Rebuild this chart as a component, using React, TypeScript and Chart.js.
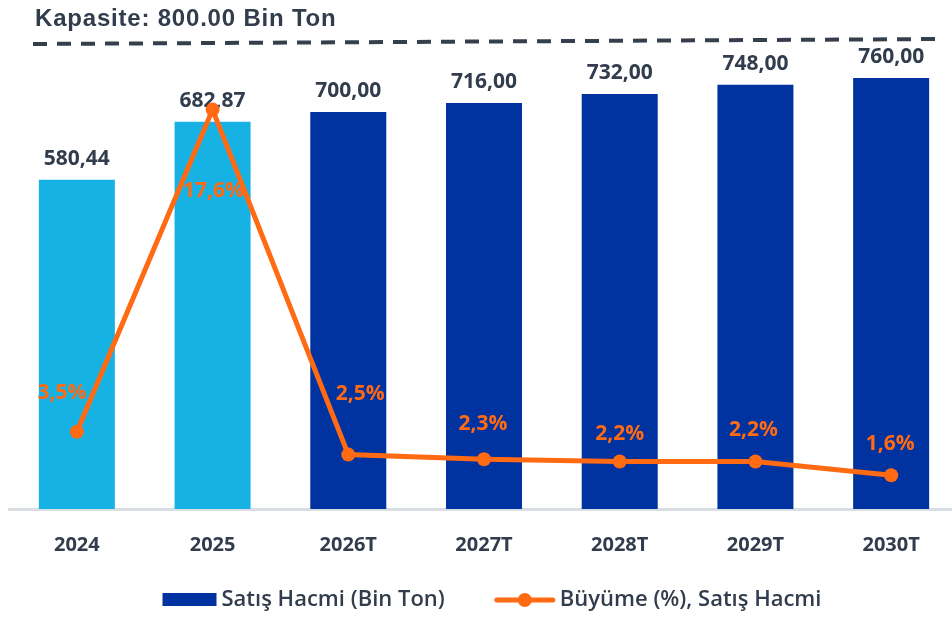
import React, { useEffect, useRef } from "react";
import { Chart, registerables } from "chart.js";

Chart.register(...registerables);

// ---- data ----
const categories = ["2024", "2025", "2026T", "2027T", "2028T", "2029T", "2030T"];
const salesVolume = [580.44, 682.87, 700.0, 716.0, 732.0, 748.0, 760.0];
const growthPct = [3.5, 17.6, 2.5, 2.3, 2.2, 2.2, 1.6];
const salesLabels = ["580,44", "682,87", "700,00", "716,00", "732,00", "748,00", "760,00"];
const growthLabels = ["3,5%", "17,6%", "2,5%", "2,3%", "2,2%", "2,2%", "1,6%"];
const actualYears = 2;
const capacityText = "Kapasite: 800.00 Bin Ton";
const legendLabels = ["Satış Hacmi (Bin Ton)", "Büyüme (%), Satış Hacmi"];

// ---- style ----
const TEXT = "#313c4c";
const ORANGE = "#FF6A13";
const LIGHT = "#17B2E4";
const NAVY = "#0033A0";
const FONT = "'Open Sans', 'Noto Sans', sans-serif";
const growthLabelOffsets: [number, number][] = [
  [-15, -39],
  [1, 81],
  [12, -61],
  [-1, -35],
  [0, -27],
  [-2, -31],
  [-1, -31],
];

const labelsPlugin = {
  id: "customLabels",
  afterDatasetDraw(chart: any, args: any) {
    if (args.index !== 0) return;
    const ctx = chart.ctx;
    ctx.save();
    ctx.textAlign = "center";
    ctx.textBaseline = "middle";
    const barMeta = chart.getDatasetMeta(0);
    ctx.font = `bold 21px ${FONT}`;
    ctx.fillStyle = TEXT;
    barMeta.data.forEach((el: any, i: number) => {
      ctx.fillText(salesLabels[i], el.x, el.y - 21);
    });
    const lineMeta = chart.getDatasetMeta(1);
    ctx.font = `bold 21px ${FONT}`;
    ctx.fillStyle = ORANGE;
    lineMeta.data.forEach((el: any, i: number) => {
      const [dx, dy] = growthLabelOffsets[i];
      ctx.fillText(growthLabels[i], el.x + dx, el.y + dy);
    });
    ctx.restore();
  },
  afterDraw(chart: any) {
    const ctx = chart.ctx;
    const area = chart.chartArea;
    ctx.save();
    // capacity title
    ctx.font = `bold 24px 'Liberation Sans', Arial, sans-serif`;
    (ctx as any).letterSpacing = "0.8px";
    ctx.fillStyle = TEXT;
    ctx.textAlign = "left";
    ctx.textBaseline = "middle";
    ctx.fillText(capacityText, 35, 19);
    (ctx as any).letterSpacing = "0px";
    // capacity dashed line
    ctx.strokeStyle = "#363f4c";
    ctx.lineWidth = 4;
    ctx.setLineDash([14, 10]);
    ctx.beginPath();
    ctx.moveTo(33, 44);
    ctx.lineTo(942, 39);
    ctx.stroke();
    ctx.setLineDash([]);

    // legend
    ctx.font = `600 22px ${FONT}`;
    const w1 = ctx.measureText(legendLabels[0]).width;
    const w2 = ctx.measureText(legendLabels[1]).width;
    const boxW = 54, markW = 60, gap = 5, itemGap = 50;
    const total = boxW + gap + w1 + itemGap + markW + gap + w2;
    const cx = (area.left + area.right) / 2 + 8;
    let x = cx - total / 2;
    const y = 600;
    ctx.fillStyle = NAVY;
    ctx.fillRect(x, y - 7, boxW, 13);
    x += boxW + gap;
    ctx.fillStyle = TEXT;
    ctx.textBaseline = "middle";
    ctx.fillText(legendLabels[0], x, y);
    x += w1 + itemGap;
    ctx.strokeStyle = ORANGE;
    ctx.lineWidth = 5;
    ctx.lineCap = "round";
    ctx.beginPath();
    ctx.moveTo(x + 2, y);
    ctx.lineTo(x + markW - 2, y);
    ctx.stroke();
    ctx.fillStyle = ORANGE;
    ctx.beginPath();
    ctx.arc(x + markW / 2, y, 7, 0, Math.PI * 2);
    ctx.fill();
    x += markW + gap;
    ctx.fillStyle = TEXT;
    ctx.fillText(legendLabels[1], x, y);
    ctx.restore();
  },
};

export default function App() {
  const canvasRef = useRef<HTMLCanvasElement | null>(null);

  useEffect(() => {
    const canvas = canvasRef.current;
    if (!canvas) return;
    const chart = new Chart(canvas, {
      type: "bar",
      data: {
        labels: categories,
        datasets: [
          {
            type: "bar",
            label: legendLabels[0],
            data: salesVolume,
            backgroundColor: salesVolume.map((_, i) => (i < actualYears ? LIGHT : NAVY)),
            borderWidth: 0,
            categoryPercentage: 1,
            barPercentage: 0.56,
            yAxisID: "y",
            order: 2,
          },
          {
            type: "line",
            label: legendLabels[1],
            data: growthPct,
            borderColor: ORANGE,
            backgroundColor: ORANGE,
            borderWidth: 5,
            pointRadius: 7,
            pointBorderWidth: 0,
            pointBackgroundColor: ORANGE,
            tension: 0,
            yAxisID: "y1",
            order: 1,
          } as any,
        ],
      },
      options: {
        responsive: false,
        animation: false,
        layout: { padding: { left: 9, right: 0, top: 10, bottom: 36 } },
        plugins: {
          legend: { display: false },
          tooltip: { enabled: false },
        },
        scales: {
          x: {
            grid: { display: false, drawTicks: false },
            border: { display: true, color: "#d9dde4", width: 3 },
            ticks: {
              color: TEXT,
              padding: 24,
              font: { family: FONT, size: 20, weight: "bold" },
            },
          },
          y: { display: false, min: 0, max: 880 },
          y1: { display: false, min: 0.12, max: 21.96, position: "right" },
        },
      },
      plugins: [labelsPlugin],
    });
    return () => chart.destroy();
  }, []);

  return (
    <div
      style={{
        position: "fixed",
        left: 0,
        top: 0,
        width: 952,
        height: 617,
        overflow: "hidden",
        background: "#ffffff",
      }}
    >
      <canvas ref={canvasRef} width={966} height={617} style={{ width: 966, height: 617, display: "block" }} />
    </div>
  );
}
